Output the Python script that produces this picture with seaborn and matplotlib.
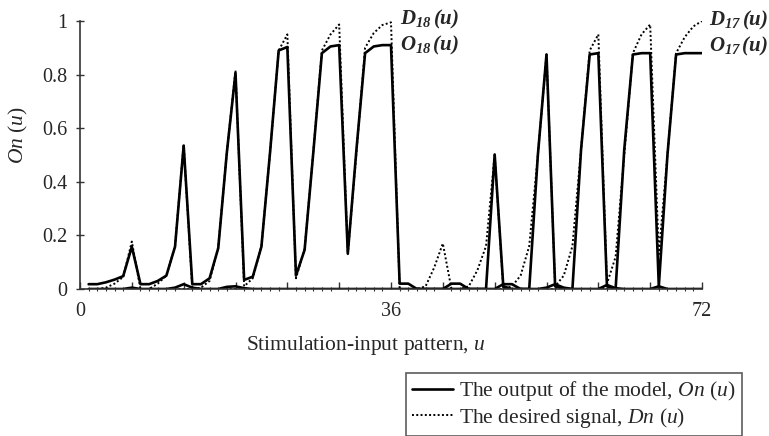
import numpy as np
import pandas as pd
import matplotlib
matplotlib.use("Agg")
import matplotlib.pyplot as plt
from matplotlib.lines import Line2D
from matplotlib.ticker import MultipleLocator, FixedLocator
import seaborn as sns

# ---------------- data ----------------
u = list(range(1, 73))

O18 = [0.018, 0.018, 0.025, 0.035, 0.048, 0.158,
       0.018, 0.018, 0.030, 0.050, 0.158, 0.535,
       0.018, 0.018, 0.040, 0.152, 0.510, 0.806,
       0.034, 0.046, 0.158, 0.510, 0.890, 0.903,
       0.050, 0.146, 0.507, 0.880, 0.905, 0.910,
       0.133, 0.520, 0.880, 0.905, 0.910, 0.910,
       0.020, 0.020, 0.000, 0.000, 0.000, 0.000,
       0.020, 0.020, 0.000, 0.000, 0.000, 0.000,
       0.018, 0.018, 0.000, 0.000, 0.000, 0.005,
       0.018, 0.005, 0.000, 0.000, 0.000, 0.000,
       0.015, 0.003, 0.000, 0.000, 0.000, 0.000,
       0.010, 0.000, 0.000, 0.000, 0.000, 0.000]

D18 = [0.000, 0.000, 0.005, 0.020, 0.045, 0.177,
       0.000, 0.000, 0.020, 0.050, 0.160, 0.540,
       0.000, 0.005, 0.030, 0.155, 0.510, 0.815,
       0.010, 0.040, 0.160, 0.510, 0.890, 0.950,
       0.040, 0.150, 0.510, 0.890, 0.950, 0.987,
       0.130, 0.510, 0.900, 0.955, 0.985, 0.995,
       0.000, 0.000, 0.000, 0.000, 0.000, 0.000,
       0.000, 0.000, 0.000, 0.000, 0.000, 0.000,
       0.000, 0.000, 0.000, 0.000, 0.000, 0.000,
       0.000, 0.000, 0.000, 0.000, 0.000, 0.000,
       0.000, 0.000, 0.000, 0.000, 0.000, 0.000,
       0.000, 0.000, 0.000, 0.000, 0.000, 0.000]

O17 = [0.000, 0.000, 0.000, 0.000, 0.000, 0.005,
       0.000, 0.000, 0.000, 0.000, 0.005, 0.018,
       0.005, 0.000, 0.000, 0.000, 0.008, 0.010,
       0.003, 0.000, 0.000, 0.000, 0.000, 0.000,
       0.000, 0.000, 0.000, 0.000, 0.000, 0.000,
       0.000, 0.000, 0.000, 0.000, 0.000, 0.000,
       0.000, 0.000, 0.000, 0.000, 0.000, 0.000,
       0.000, 0.000, 0.000, 0.000, 0.000, 0.502,
       0.010, 0.000, 0.000, 0.000, 0.500, 0.875,
       0.010, 0.000, 0.000, 0.520, 0.875, 0.880,
       0.010, 0.000, 0.520, 0.875, 0.880, 0.880,
       0.010, 0.500, 0.875, 0.880, 0.880, 0.880]

D17 = [0.000, 0.000, 0.000, 0.000, 0.000, 0.000,
       0.000, 0.000, 0.000, 0.000, 0.000, 0.000,
       0.000, 0.000, 0.000, 0.000, 0.000, 0.000,
       0.000, 0.000, 0.000, 0.000, 0.000, 0.000,
       0.000, 0.000, 0.000, 0.000, 0.000, 0.000,
       0.000, 0.000, 0.000, 0.000, 0.000, 0.000,
       0.000, 0.000, 0.000, 0.010, 0.080, 0.170,
       0.000, 0.000, 0.010, 0.070, 0.160, 0.500,
       0.000, 0.010, 0.050, 0.160, 0.500, 0.875,
       0.010, 0.050, 0.160, 0.520, 0.890, 0.950,
       0.020, 0.120, 0.500, 0.880, 0.950, 0.987,
       0.130, 0.500, 0.880, 0.940, 0.980, 1.000]

x_tick_labels = {0: "0", 36: "36", 72: "72"}
y_ticks = [0, 0.2, 0.4, 0.6, 0.8, 1.0]
y_tick_labels = ["0", "0.2", "0.4", "0.6", "0.8", "1"]

# ---------------- style ----------------
sns.set_theme(style="ticks")
plt.rcParams["font.family"] = ["Liberation Serif", "DejaVu Serif"]
plt.rcParams["mathtext.fontset"] = "custom"
plt.rcParams["mathtext.rm"] = "Liberation Serif"
plt.rcParams["mathtext.it"] = "Liberation Serif:italic"
plt.rcParams["mathtext.bf"] = "Liberation Serif:bold:italic"

W, H = 769, 436
fig = plt.figure(figsize=(W / 100, H / 100), dpi=100)
fig.patch.set_facecolor("white")
left_px, right_px, top_px, bottom_px = 80, 702, 21, 289
ax = fig.add_axes([left_px / W, 1 - bottom_px / H,
                   (right_px - left_px) / W, (bottom_px - top_px) / H])
ax.set_facecolor("white")

dotted = (0, (1.0, 1.2))
sns.lineplot(x=u, y=D18, ax=ax, color="black", lw=1.4, linestyle=dotted)
sns.lineplot(x=u, y=D17, ax=ax, color="black", lw=1.4, linestyle=dotted)
sns.lineplot(x=u, y=O18, ax=ax, color="black", lw=1.9)
sns.lineplot(x=u, y=O17, ax=ax, color="black", lw=1.9)

ax.set_xlim(0, 72)
ax.set_ylim(0, 1)
for s in ["top", "right"]:
    ax.spines[s].set_visible(False)
for s in ["left", "bottom"]:
    ax.spines[s].set_color("#333333")
    ax.spines[s].set_linewidth(1.2)

ax.xaxis.set_major_locator(FixedLocator(list(range(0, 73, 6))))
ax.set_xticklabels([x_tick_labels.get(v, "") for v in range(0, 73, 6)])
ax.xaxis.set_minor_locator(MultipleLocator(1))
ax.tick_params(axis="x", which="major", direction="in", length=5, width=1,
               color="#333333", pad=9, labelsize=14.5)
ax.tick_params(axis="x", which="minor", direction="inout", length=3, width=0.8,
               color="#333333")
ax.set_yticks(y_ticks)
ax.set_yticklabels(y_tick_labels)
ax.tick_params(axis="y", which="major", direction="inout", length=6, width=1,
               color="#333333", pad=6, labelsize=14.5)

ax.set_xlabel("Stimulation-input pattern, $u$", fontsize=15.5)
ax.xaxis.set_label_coords((366 - left_px) / (right_px - left_px),
                          -(334 - bottom_px) / (bottom_px - top_px))
ax.set_ylabel("$On$ $(u)$", fontsize=15.5)
ax.yaxis.set_label_coords(-(left_px - 30) / (right_px - left_px),
                          (bottom_px - 135) / (bottom_px - top_px))

def lab(x, y, letter, sub):
    fig.text(x / W, 1 - y / H,
             r"$\mathbf{%s}_{\mathbf{%s}}\,\mathbf{(u)}$" % (letter, sub),
             fontsize=15, va="center", ha="left")

lab(400, 19, "D", "18")
lab(400, 45, "O", "18")
lab(709, 20, "D", "17")
lab(709, 46, "O", "17")

handles = [Line2D([0], [0], color="black", lw=1.9),
           Line2D([0], [0], color="black", lw=1.4, linestyle=dotted)]
labels = ["The output of the model, $On$ $(u)$",
          "The desired signal, $Dn$ $(u)$"]
leg = fig.legend(handles, labels, loc="upper left",
                 bbox_to_anchor=(406 / W, 1 - 373 / H),
                 frameon=True, fancybox=False, edgecolor="#333333",
                 fontsize=15.5, handlelength=1.9, handletextpad=0.25,
                 borderpad=0.3, labelspacing=0.1, borderaxespad=0)
leg.get_frame().set_linewidth(1.2)

fig.savefig("out.png", dpi=100, facecolor="white")
